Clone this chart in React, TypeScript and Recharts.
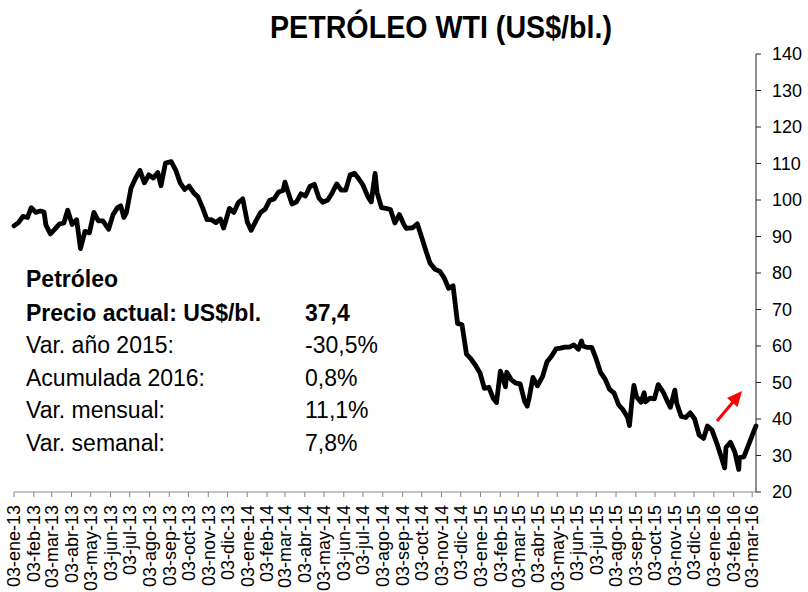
import React from "react";
import { LineChart, Line, XAxis, YAxis } from "recharts";

const chartTitle = "PETRÓLEO WTI (US$/bl.)";

const priceDates = [
  "2013-01-03","2013-01-10","2013-01-17","2013-01-24","2013-01-30","2013-02-06","2013-02-13","2013-02-19","2013-02-22","2013-03-01",
  "2013-03-08","2013-03-15","2013-03-22","2013-03-28","2013-04-04","2013-04-11","2013-04-17","2013-04-24","2013-05-01","2013-05-08",
  "2013-05-15","2013-05-22","2013-05-31","2013-06-07","2013-06-14","2013-06-19","2013-06-24","2013-06-28","2013-07-05","2013-07-12",
  "2013-07-19","2013-07-26","2013-08-02","2013-08-09","2013-08-16","2013-08-21","2013-08-28","2013-09-06","2013-09-13","2013-09-20",
  "2013-09-27","2013-10-04","2013-10-11","2013-10-18","2013-10-25","2013-11-01","2013-11-08","2013-11-15","2013-11-22","2013-11-27",
  "2013-12-06","2013-12-13","2013-12-20","2013-12-27","2014-01-03","2014-01-09","2014-01-17","2014-01-24","2014-01-31","2014-02-07",
  "2014-02-14","2014-02-21","2014-02-28","2014-03-03","2014-03-07","2014-03-14","2014-03-21","2014-03-28","2014-04-04","2014-04-11",
  "2014-04-18","2014-04-25","2014-05-01","2014-05-09","2014-05-16","2014-05-23","2014-05-30","2014-06-06","2014-06-13","2014-06-20",
  "2014-06-27","2014-07-03","2014-07-11","2014-07-16","2014-07-22","2014-07-25","2014-08-01","2014-08-08","2014-08-15","2014-08-22",
  "2014-08-29","2014-09-05","2014-09-09","2014-09-12","2014-09-19","2014-09-26","2014-10-03","2014-10-10","2014-10-16","2014-10-24",
  "2014-10-31","2014-11-07","2014-11-14","2014-11-21","2014-11-28","2014-12-05","2014-12-12","2014-12-19","2014-12-26","2015-01-02",
  "2015-01-09","2015-01-16","2015-01-23","2015-01-28","2015-02-03","2015-02-06","2015-02-11","2015-02-13","2015-02-20","2015-02-27",
  "2015-03-06","2015-03-13","2015-03-17","2015-03-20","2015-03-26","2015-04-02","2015-04-10","2015-04-17","2015-04-24","2015-05-01",
  "2015-05-08","2015-05-15","2015-05-22","2015-05-29","2015-06-05","2015-06-10","2015-06-12","2015-06-19","2015-06-26","2015-07-02",
  "2015-07-10","2015-07-17","2015-07-24","2015-07-31","2015-08-07","2015-08-14","2015-08-21","2015-08-24","2015-08-28","2015-08-31",
  "2015-09-04","2015-09-11","2015-09-16","2015-09-18","2015-09-25","2015-10-02","2015-10-08","2015-10-16","2015-10-23","2015-10-27",
  "2015-11-03","2015-11-06","2015-11-13","2015-11-20","2015-11-27","2015-12-04","2015-12-11","2015-12-18","2015-12-24","2015-12-31",
  "2016-01-08","2016-01-15","2016-01-20","2016-01-22","2016-01-29","2016-02-05","2016-02-11","2016-02-12","2016-02-19","2016-02-26",
  "2016-03-04","2016-03-09"
];

const prices = [
  92.9, 93.8, 95.5, 95.2, 97.9, 96.6, 97.0, 96.7, 93.1, 90.7,
  92.0, 93.4, 93.7, 97.2, 93.3, 94.6, 86.7, 91.4, 91.0, 96.6,
  94.3, 94.3, 92.0, 96.0, 97.9, 98.4, 95.2, 96.6, 103.2, 105.9,
  108.1, 104.7, 106.9, 106.0, 107.5, 103.9, 110.1, 110.5, 108.2, 104.7,
  102.9, 103.8, 102.0, 100.8, 97.9, 94.6, 94.6, 93.8, 94.8, 92.3,
  97.7, 96.6, 99.3, 100.3, 94.0, 91.7, 94.4, 96.6, 97.5, 99.9,
  100.3, 102.2, 102.6, 104.9, 102.6, 98.9, 99.5, 101.7, 101.1, 103.7,
  104.3, 100.6, 99.4, 100.0, 102.0, 104.4, 102.7, 102.7, 106.9, 107.3,
  105.7, 104.1, 100.8, 99.5, 107.3, 102.1, 97.9, 97.7, 97.4, 93.7,
  96.0, 93.3, 92.2, 92.3, 92.4, 93.5, 89.7, 85.8, 82.7, 81.0,
  80.5, 78.7, 75.8, 76.5, 66.2, 65.8, 57.8, 56.5, 54.7, 52.7,
  48.4, 48.7, 45.6, 44.5, 53.1, 51.7, 48.8, 52.8, 50.8, 49.8,
  49.6, 44.8, 43.5, 45.7, 51.4, 49.1, 51.6, 55.7, 57.2, 59.2,
  59.4, 59.7, 59.7, 60.3, 59.1, 61.4, 60.0, 59.6, 59.6, 56.9,
  52.7, 50.9, 48.1, 47.1, 43.9, 42.5, 40.5, 38.2, 45.2, 49.2,
  46.1, 44.6, 47.2, 44.7, 45.7, 45.5, 49.4, 47.3, 44.6, 43.2,
  47.9, 44.3, 40.7, 40.4, 41.7, 40.0, 35.6, 34.7, 38.1, 37.0,
  33.2, 29.4, 26.6, 32.2, 33.6, 30.9, 26.2, 29.4, 29.6, 32.8,
  35.9, 38.1
];

const monthNames = ["ene", "feb", "mar", "abr", "may", "jun", "jul", "ago", "sep", "oct", "nov", "dic"];
const yTicks = [20, 30, 40, 50, 60, 70, 80, 90, 100, 110, 120, 130, 140];

const infoLabels = ["Precio actual: US$/bl.", "Var. año 2015:", "Acumulada 2016:", "Var. mensual:", "Var. semanal:"];
const infoValues = ["37,4", "-30,5%", "0,8%", "11,1%", "7,8%"];

const BASE = Date.UTC(2013, 0, 3);
const toDay = (s: string) => {
  const [y, m, d] = s.split("-").map(Number);
  return Math.round((Date.UTC(y, m - 1, d) - BASE) / 86400000);
};

const data = priceDates.map((d, i) => ({ day: toDay(d), price: prices[i] }));

const xTicks: number[] = [];
const xTickLabels: Record<number, string> = {};
for (let y = 2013; y <= 2016; y++) {
  for (let m = 0; m < 12; m++) {
    if (y === 2016 && m > 2) break;
    const day = Math.round((Date.UTC(y, m, 3) - BASE) / 86400000);
    xTicks.push(day);
    xTickLabels[day] = `03-${monthNames[m]}-${String(y).slice(2)}`;
  }
}
const lastDay = data[data.length - 1].day;

const FONT = "'Liberation Sans', Arial, sans-serif";

const XTick = (props: any) => {
  const { x, y, payload } = props;
  return (
    <text
      x={0}
      y={0}
      transform={`translate(${x},${y}) rotate(-90)`}
      textAnchor="end"
      dy="0.35em"
      fontSize={18}
      fontFamily={FONT}
      fill="#000"
    >
      {xTickLabels[payload.value]}
    </text>
  );
};

export default function App() {
  return (
    <div style={{ position: "absolute", left: 0, top: 0, width: 808, height: 592, background: "#fff" }}>
      <LineChart
        width={808}
        height={592}
        data={data}
        margin={{ top: 54, right: 0, left: 14, bottom: 0 }}
      >
        <XAxis
          dataKey="day"
          type="number"
          domain={[0, lastDay]}
          ticks={xTicks}
          interval={0}
          height={100}
          tickSize={5}
          tickMargin={8}
          tick={<XTick />}
          axisLine={{ stroke: "#868686", strokeWidth: 1 }}
          tickLine={{ stroke: "#868686", strokeWidth: 1 }}
        />
        <YAxis
          orientation="right"
          type="number"
          domain={[20, 140]}
          ticks={yTicks}
          interval={0}
          width={52}
          tickSize={5}
          tickMargin={11}
          tick={{ fontSize: 18, fontFamily: FONT, fill: "#000" }}
          axisLine={{ stroke: "#222", strokeWidth: 1 }}
          tickLine={{ stroke: "#222", strokeWidth: 1 }}
        />
        <Line
          type="linear"
          dataKey="price"
          stroke="#000"
          strokeWidth={4.8}
          strokeLinejoin="round"
          strokeLinecap="round"
          dot={false}
          isAnimationActive={false}
        />
      </LineChart>
      <svg
        width={808}
        height={592}
        style={{ position: "absolute", left: 0, top: 0, pointerEvents: "none" }}
      >
        <text
          x={270}
          y={38}
          fontSize={32}
          fontWeight="bold"
          fontFamily={FONT}
          textLength={342}
          lengthAdjust="spacingAndGlyphs"
          fill="#000"
        >
          {chartTitle}
        </text>
        <text x={26} y={287} fontSize={23} fontWeight="bold" fontFamily={FONT} fill="#000">
          Petróleo
        </text>
        {infoLabels.map((t, i) => (
          <text
            key={t}
            x={26}
            y={320.6 + i * 32.6}
            fontSize={23}
            fontWeight={i === 0 ? "bold" : "normal"}
            fontFamily={FONT}
            fill="#000"
          >
            {t}
          </text>
        ))}
        {infoValues.map((t, i) => (
          <text
            key={t}
            x={305}
            y={320.6 + i * 32.6}
            fontSize={23}
            fontWeight={i === 0 ? "bold" : "normal"}
            fontFamily={FONT}
            fill="#000"
          >
            {t}
          </text>
        ))}
        <line x1={717} y1={421} x2={733} y2={402} stroke="#ff0000" strokeWidth={3} />
        <polygon points="742,391 737.5,407 727,398" fill="#ff0000" />
      </svg>
    </div>
  );
}
